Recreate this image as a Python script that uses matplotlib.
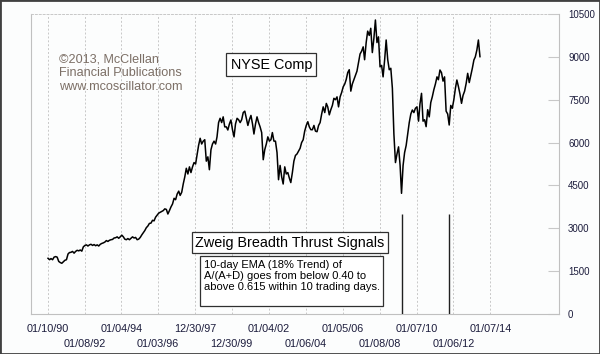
import matplotlib
matplotlib.use("Agg")
import matplotlib.pyplot as plt
import matplotlib.dates as mdates
from matplotlib.patches import Rectangle
import pandas as pd

plt.rcParams['font.family'] = ['Liberation Sans', 'DejaVu Sans']

# NYSE Composite, mid-month values (approximate), Jan 1990 - Jun 2013
first_month = "1990-01"
nyse_monthly = [
    1950, 1900, 1940, 1900, 1990, 2010, 1990, 1840, 1800, 1775, 1830, 1880,  # 1990
    1900, 2100, 2150, 2160, 2190, 2130, 2190, 2230, 2210, 2240, 2200, 2350,  # 1991
    2400, 2420, 2380, 2420, 2440, 2400, 2430, 2390, 2420, 2380, 2440, 2470,  # 1992
    2490, 2520, 2570, 2540, 2580, 2600, 2610, 2660, 2670, 2700, 2650, 2700,  # 1993
    2760, 2700, 2620, 2600, 2640, 2600, 2650, 2700, 2660, 2680, 2600, 2620,  # 1994
    2680, 2770, 2840, 2920, 3020, 3080, 3170, 3180, 3280, 3260, 3390, 3460,  # 1995
    3530, 3560, 3590, 3620, 3680, 3660, 3500, 3620, 3750, 3850, 4050, 4000,  # 1996
    4200, 4300, 4150, 4260, 4550, 4800, 5100, 4900, 5150, 4950, 5150, 5300,  # 1997
    5250, 5600, 5900, 6150, 5950, 6050, 6100, 5350, 5500, 5050, 5750, 5950,  # 1998
    6050, 5950, 6200, 6700, 6850, 6700, 6900, 6550, 6550, 6440, 6650, 6790,  # 1999
    6450, 6200, 6650, 6850, 6800, 6700, 6800, 7050, 7100, 6850, 6600, 6800,  # 2000
    6950, 6650, 6300, 6650, 6900, 6700, 6550, 6350, 5400, 5750, 5950, 6200,  # 2001
    6050, 6100, 6350, 6050, 6050, 5650, 4700, 5200, 4800, 4550, 5150, 4900,  # 2002
    4950, 4750, 4600, 4950, 5350, 5550, 5600, 5700, 5800, 6000, 6100, 6400,  # 2003
    6600, 6730, 6550, 6450, 6450, 6600, 6400, 6380, 6600, 6700, 7000, 7250,  # 2004
    7050, 7370, 7250, 6970, 7150, 7300, 7550, 7500, 7600, 7250, 7600, 7750,  # 2005
    7950, 8050, 8200, 8450, 8550, 7800, 8050, 8200, 8350, 8500, 8800, 9100,  # 2006
    9200, 9350, 8900, 9500, 9900, 9750, 10000, 9150, 9650, 10290, 9500, 9700,  # 2007
    8650, 8700, 8300, 8900, 9590, 8900, 8550, 8600, 7900, 6300, 5300, 5600,  # 2008
    5850, 5200, 4224, 5200, 5650, 5900, 6300, 6700, 7000, 7140, 7050, 7200,  # 2009
    7250, 6750, 7350, 7723, 6750, 6800, 6557, 7150, 6900, 7400, 7607, 7850,  # 2010
    8050, 8300, 8200, 8540, 8450, 8150, 8300, 7100, 7000, 6615, 7300, 7200,  # 2011
    7500, 7900, 8190, 7957, 7700, 7373, 7650, 7800, 8073, 8423, 8100, 8350,  # 2012
    8600, 8890, 9000, 9240, 9590, 9007,                                      # 2013
]

# Zweig Breadth Thrust signal dates
signal_dates = ["2009-03-23", "2011-10-10"]
signal_height = 3500

tick_dates = ["1990-01-10", "1992-01-08", "1994-01-04", "1996-01-03", "1997-12-30",
              "1999-12-30", "2002-01-04", "2004-01-06", "2006-01-05", "2008-01-08",
              "2010-01-07", "2012-01-06", "2014-01-07"]
tick_labels = ["01/10/90", "01/08/92", "01/04/94", "01/03/96", "12/30/97",
               "12/30/99", "01/04/02", "01/06/04", "01/05/06", "01/08/08",
               "01/07/10", "01/06/12", "01/07/14"]
y_ticks = [0, 1500, 3000, 4500, 6000, 7500, 9000, 10500]

bg = '#fcfdfd'
grid_c = '#c8c8c8'
lab_c = '#1c1c3c'

fig = plt.figure(figsize=(6, 3.54), dpi=100, facecolor=bg)
ax = fig.add_axes([31 / 600, 1 - 314 / 354, 528 / 600, 300 / 354], facecolor=bg)

x = pd.date_range(first_month, periods=len(nyse_monthly), freq='MS') + pd.Timedelta(days=14)
ax.plot(x, nyse_monthly, color='black', linewidth=1.1, zorder=3)
ax.vlines(pd.to_datetime(signal_dates), 0, signal_height, color='#202020', linewidth=1.0, zorder=3)

ax.set_ylim(0, 10500)
ax.set_xlim(pd.Timestamp("1989-02-12"), pd.Timestamp("2017-09-27"))

td = mdates.date2num(pd.to_datetime(tick_dates))
ax.set_xticks(td[0::2])
ax.set_xticklabels(tick_labels[0::2])
ax.set_xticks(td[1::2], minor=True)
ax.set_xticklabels(tick_labels[1::2], minor=True)
ax.tick_params(axis='x', which='both', length=0, labelsize=7.8, labelcolor=lab_c)
ax.tick_params(axis='x', which='major', pad=7)
ax.tick_params(axis='x', which='minor', pad=18)
ax.grid(True, axis='x', which='both', color=grid_c, linestyle=(0, (2, 2)), linewidth=0.7)

ax.yaxis.tick_right()
ax.set_yticks(y_ticks)
ax.set_yticklabels([str(v) for v in y_ticks])
ax.tick_params(axis='y', direction='in', length=8, color=grid_c, width=0.8,
               labelsize=7.0, labelcolor=lab_c, pad=6.5)

for s in ['left', 'right', 'bottom']:
    ax.spines[s].set_color('#c0c0c0')
    ax.spines[s].set_linewidth(0.8)
ax.spines['top'].set_color(grid_c)
ax.spines['top'].set_linestyle((0, (2, 2)))
ax.spines['top'].set_linewidth(0.7)

# annotations
fig.text(59 / 600, 1 - 53 / 354, "©2013, McClellan\nFinancial Publications\nwww.mcoscillator.com",
         ha='left', va='top', fontsize=9.1, color='#7c6f66', linespacing=1.2)

fig.text(271.3 / 600, 1 - 64.7 / 354, "NYSE Comp", ha='center', va='center',
         fontsize=10.4, color='black',
         bbox=dict(boxstyle='square,pad=0.3', facecolor='white', edgecolor='#303030', linewidth=0.9))

fig.text(290 / 600, 1 - 242.5 / 354, "Zweig Breadth Thrust Signals", ha='center', va='center',
         fontsize=10.4, color='black',
         bbox=dict(boxstyle='square,pad=0.25', facecolor='white', edgecolor='#303030', linewidth=0.9))

fig.patches.append(Rectangle((200 / 600, 1 - 306 / 354), 183.3 / 600, 50 / 354,
                             transform=fig.transFigure, facecolor='white',
                             edgecolor='#303030', linewidth=0.9, zorder=4))
fig.text(204.5 / 600, 1 - 259.5 / 354,
         "10-day EMA (18% Trend) of\nA/(A+D) goes from below 0.40 to\nabove 0.615 within 10 trading days.",
         ha='left', va='top', fontsize=8.0, color='black', linespacing=1.15, zorder=5)

# outer frame
fig.patches.append(Rectangle((0, 0), 1, 1, transform=fig.transFigure, fill=False,
                             edgecolor='#404040', linewidth=2.0, zorder=10))

fig.savefig('out.png', dpi=100, facecolor=bg)
